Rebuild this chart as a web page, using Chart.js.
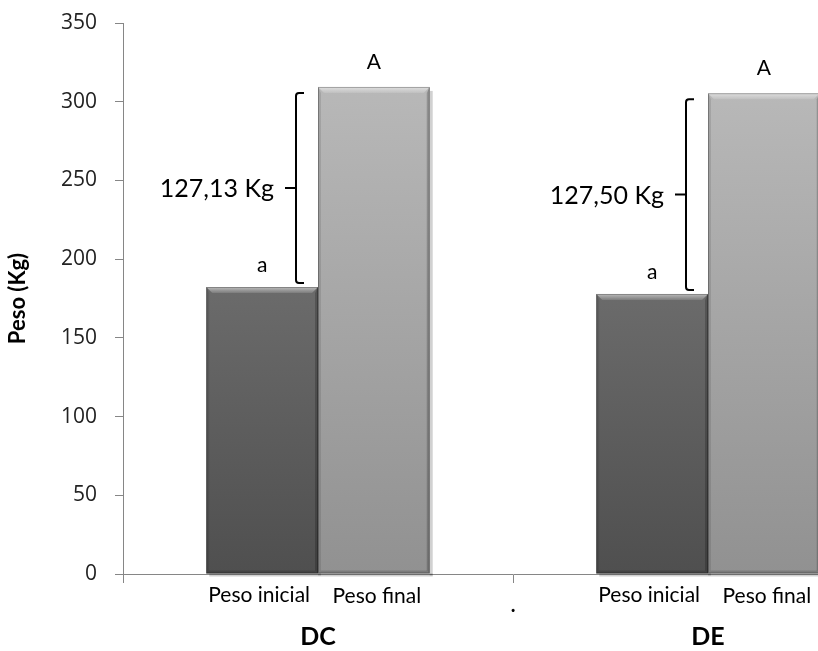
<!DOCTYPE html>
<html>
<head>
<meta charset="utf-8">
<script src="https://cdn.jsdelivr.net/npm/chart.js@4"></script>
<style>
  html, body { margin: 0; padding: 0; background: #fff; overflow: hidden; width: 818px; height: 651px; }
  #wrap { position: absolute; left: 0; top: 0; width: 910px; height: 651px; }
</style>
</head>
<body>
<div id="wrap"><canvas id="c"></canvas></div>
<script>
// ---- data ----
const categories = ['DC', 'DE'];
const seriesNames = ['Peso inicial', 'Peso final'];
const pesoInicial = [182.3, 177.9];
const pesoFinal = [309.4, 305.4];
const yTickValues = [0, 50, 100, 150, 200, 250, 300, 350];
const diffLabels = ['127,13 Kg', '127,50 Kg'];
const lettersInicial = ['a', 'a'];
const lettersFinal = ['A', 'A'];
const yTitle = 'Peso (Kg)';

const FONT = 'Lato, "Open Sans", sans-serif';
const AXIS = '#868686';

function barGradient(ctx, cTop, cBottom) {
  const chart = ctx.chart;
  const area = chart.chartArea;
  if (!area || ctx.type !== 'data' || !chart.scales.y) return cTop;
  const yTop = chart.scales.y.getPixelForValue(ctx.parsed.y);
  const g = chart.ctx.createLinearGradient(0, yTop, 0, area.bottom);
  g.addColorStop(0, cTop);
  g.addColorStop(1, cBottom);
  return g;
}

function barBox(el) {
  const p = el.getProps(['x', 'y', 'base', 'width'], true);
  return { left: p.x - p.width / 2, right: p.x + p.width / 2, top: p.y, bottom: p.base, cx: p.x };
}

const bevelPlugin = {
  id: 'bevel',
  beforeDatasetsDraw(chart) {
    const c = chart.ctx;
    c.save();
    chart.data.datasets.forEach((ds, di) => {
      chart.getDatasetMeta(di).data.forEach(el => {
        const b = barBox(el);
        c.fillStyle = 'rgba(0,0,0,0.18)';
        c.fillRect(b.right, b.top + 4, 3, b.bottom - b.top - 2);
        c.fillRect(b.left + 3, b.bottom, b.right - b.left, 3);
      });
    });
    c.restore();
  },
  afterDatasetsDraw(chart) {
    const c = chart.ctx;
    c.save();
    chart.data.datasets.forEach((ds, di) => {
      chart.getDatasetMeta(di).data.forEach(el => {
        const b = barBox(el);
        const k = 6;
        // top bevel
        c.beginPath();
        c.moveTo(b.left, b.top); c.lineTo(b.right, b.top);
        c.lineTo(b.right - k, b.top + k); c.lineTo(b.left + k, b.top + k); c.closePath();
        const g = c.createLinearGradient(0, b.top, 0, b.top + k);
        g.addColorStop(0, 'rgba(255,255,255,0.55)');
        g.addColorStop(1, 'rgba(255,255,255,0.12)');
        c.fillStyle = g; c.fill();
        // left bevel
        c.beginPath();
        c.moveTo(b.left, b.top); c.lineTo(b.left + k / 2, b.top + k);
        c.lineTo(b.left + k / 2, b.bottom - k / 2); c.lineTo(b.left, b.bottom); c.closePath();
        c.fillStyle = 'rgba(0,0,0,0.10)'; c.fill();
        // right bevel
        c.beginPath();
        c.moveTo(b.right, b.top); c.lineTo(b.right - k / 2, b.top + k);
        c.lineTo(b.right - k / 2, b.bottom - k / 2); c.lineTo(b.right, b.bottom); c.closePath();
        c.fillStyle = 'rgba(0,0,0,0.20)'; c.fill();
        // bottom bevel
        c.beginPath();
        c.moveTo(b.left, b.bottom); c.lineTo(b.left + k / 2, b.bottom - k / 2);
        c.lineTo(b.right - k / 2, b.bottom - k / 2); c.lineTo(b.right, b.bottom); c.closePath();
        c.fillStyle = 'rgba(0,0,0,0.15)'; c.fill();
        // outline
        c.strokeStyle = 'rgba(0,0,0,0.28)'; c.lineWidth = 1;
        c.strokeRect(b.left + 0.5, b.top + 0.5, b.right - b.left - 1, b.bottom - b.top - 1);
      });
    });
    c.restore();
  }
};

const annotPlugin = {
  id: 'annot',
  afterDraw(chart) {
    const c = chart.ctx;
    const m0 = chart.getDatasetMeta(0).data;
    const m1 = chart.getDatasetMeta(1).data;
    const xs = chart.scales.x;
    c.save();
    c.fillStyle = '#000';
    c.textAlign = 'center';
    c.textBaseline = 'middle';
    categories.forEach((cat, i) => {
      const b0 = barBox(m0[i]);
      const b1 = barBox(m1[i]);
      // letters
      c.font = '21px ' + FONT;
      c.fillText(lettersInicial[i], b0.cx, b0.top - 22);
      c.fillText(lettersFinal[i], b1.cx, b1.top - 25);
      // series labels under bars
      c.font = '21px ' + FONT;
      c.fillText(seriesNames[0], b0.cx - 3, 595);
      c.fillText(seriesNames[1], b1.cx + 3, 596);
      // bracket
      const bx = b0.right - 22;
      const top = b1.top + 6;
      const bot = b0.top - 4;
      const mid = (top + bot) / 2;
      c.strokeStyle = '#000';
      c.lineWidth = 2;
      c.beginPath();
      c.moveTo(bx + 8, top);
      c.lineTo(bx + 3, top);
      c.quadraticCurveTo(bx, top, bx, top + 3);
      c.lineTo(bx, bot - 3);
      c.quadraticCurveTo(bx, bot, bx + 3, bot);
      c.lineTo(bx + 8, bot);
      c.moveTo(bx, mid);
      c.lineTo(bx - 11, mid);
      c.stroke();
      c.textAlign = 'right';
      c.font = '25px ' + FONT;
      c.fillText(diffLabels[i], bx - 22, mid + 1);
      c.textAlign = 'center';
    });
    // small dot at the category boundary
    c.font = 'bold 20px ' + FONT;
    c.fillText('.', xs.getPixelForValue(0.5), 606);
    c.restore();
  }
};

new Chart(document.getElementById('c'), {
  type: 'bar',
  data: {
    labels: categories,
    datasets: [
      { label: seriesNames[0], data: pesoInicial,
        backgroundColor: ctx => barGradient(ctx, '#6b6b6b', '#4f4f4f'), borderWidth: 0 },
      { label: seriesNames[1], data: pesoFinal,
        backgroundColor: ctx => barGradient(ctx, '#b8b8b8', '#919191'), borderWidth: 0 }
    ]
  },
  options: {
    responsive: true,
    maintainAspectRatio: false,
    animation: false,
    devicePixelRatio: 1,
    layout: { padding: { top: 23, right: 7, left: 0, bottom: 0 } },
    plugins: { legend: { display: false }, tooltip: { enabled: false } },
    datasets: { bar: { categoryPercentage: 0.573, barPercentage: 1 } },
    scales: {
      x: {
        grid: { drawOnChartArea: false, drawTicks: true, tickLength: 9, color: AXIS, offset: true },
        border: { color: AXIS, width: 1 },
        ticks: { color: '#000', font: { family: FONT, size: 25, weight: 'bold' }, padding: 39 },
        afterFit: s => { s.height = 77; s.paddingLeft = 0; s.paddingRight = 0; }
      },
      y: {
        min: 0, max: 350,
        afterBuildTicks: s => { s.ticks = yTickValues.map(v => ({ value: v })); },
        grid: { drawOnChartArea: false, drawTicks: true, tickLength: 8, color: AXIS },
        border: { color: AXIS, width: 1 },
        ticks: { color: '#222', font: { family: '"Open Sans", sans-serif', size: 21 }, padding: 18 },
        title: { display: true, text: yTitle, color: '#000',
                 font: { family: FONT, size: 22, weight: 'bold' }, padding: { top: 5, bottom: 0 } },
        afterFit: s => { s.width = 123; s.paddingTop = 0; s.paddingBottom = 0; }
      }
    }
  },
  plugins: [bevelPlugin, annotPlugin]
});
</script>
</body>
</html>
